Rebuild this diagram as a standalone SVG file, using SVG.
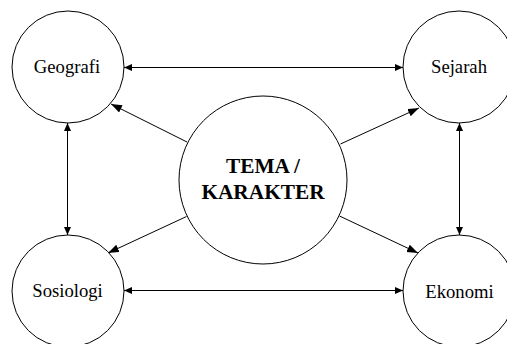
<svg xmlns="http://www.w3.org/2000/svg" width="507" height="344" viewBox="0 0 507 344">
<style>
.node{fill:#fff;stroke:#000;stroke-width:1}
.lbl{font-family:'Liberation Serif','Times New Roman','DejaVu Serif',serif;font-size:18.67px;text-anchor:middle;fill:#000}
.big{font-family:'Liberation Serif','Times New Roman','DejaVu Serif',serif;font-size:21.33px;font-weight:bold;text-anchor:middle;fill:#000}
.edge{stroke:#000;stroke-width:1;fill:none}
</style>
<defs>
<marker id="ah" markerUnits="userSpaceOnUse" markerWidth="9" markerHeight="8" refX="8" refY="3.5" orient="auto-start-reverse">
<path d="M0,0 L8,3.5 L0,7 Z" fill="#000"/>
</marker>
<marker id="ahL" markerUnits="userSpaceOnUse" markerWidth="12" markerHeight="10" refX="11" refY="4" orient="auto">
<path d="M0,0 L11,4 L0,8 Z" fill="#000"/>
</marker>
</defs>
<rect width="507" height="344" fill="#fff"/>
<g id="connectors">
<line class="edge" x1="124" y1="67.5" x2="403" y2="67.5" marker-start="url(#ah)" marker-end="url(#ah)"/>
<line class="edge" x1="124" y1="290.5" x2="403" y2="290.5" marker-start="url(#ah)" marker-end="url(#ah)"/>
<line class="edge" x1="67.5" y1="123" x2="67.5" y2="235" marker-start="url(#ah)" marker-end="url(#ah)"/>
<line class="edge" x1="459.5" y1="123" x2="459.5" y2="235" marker-start="url(#ah)" marker-end="url(#ah)"/>
<line class="edge" x1="187" y1="142" x2="111" y2="104" marker-end="url(#ahL)"/>
<line class="edge" x1="340.5" y1="144" x2="419" y2="108" marker-end="url(#ahL)"/>
<line class="edge" x1="186.5" y1="216.5" x2="108" y2="253" marker-end="url(#ahL)"/>
<line class="edge" x1="339.5" y1="216" x2="418" y2="253" marker-end="url(#ahL)"/>
</g>
<g id="center">
<circle class="node" cx="263" cy="180" r="84"/>
<text class="big" x="263" y="173" font-family="Liberation Serif, serif">TEMA /</text>
<text class="big" x="263" y="199" font-family="Liberation Serif, serif">KARAKTER</text>
</g>
<g id="geografi">
<circle class="node" cx="68" cy="67" r="56"/>
<text class="lbl" x="67" y="73">Geografi</text>
</g>
<g id="sejarah">
<circle class="node" cx="459" cy="67" r="56"/>
<text class="lbl" x="459" y="73">Sejarah</text>
</g>
<g id="sosiologi">
<circle class="node" cx="68" cy="291" r="56"/>
<text class="lbl" x="67.5" y="297">Sosiologi</text>
</g>
<g id="ekonomi">
<circle class="node" cx="459" cy="291" r="56"/>
<text class="lbl" x="459.5" y="297.5">Ekonomi</text>
</g>
</svg>
